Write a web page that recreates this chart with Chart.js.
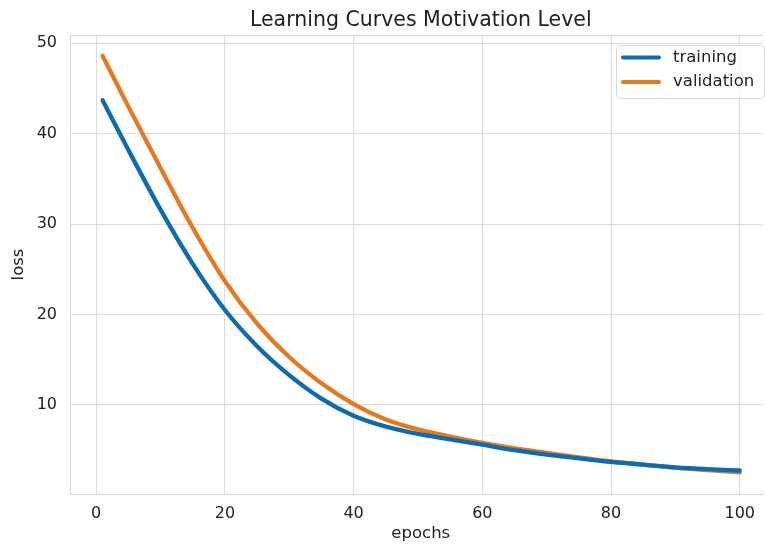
<!DOCTYPE html>
<html>
<head>
<meta charset="utf-8">
<title>Learning Curves Motivation Level</title>
<script src="https://cdn.jsdelivr.net/npm/chart.js@4/dist/chart.umd.min.js"></script>
<style>
    html, body { margin: 0; padding: 0; background: #ffffff; overflow: hidden; }
    #wrap { width: 765px; height: 546px; }
</style>
</head>
<body>
<div id="wrap"><canvas id="lossChart" width="765" height="546"></canvas></div>
<script>
// Values
const chartTitle = 'Learning Curves Motivation Level';
const xLabel = 'epochs';
const yLabel = 'loss';
const seriesNames = ['training', 'validation'];
const epochs = [1, 5, 10, 15, 20, 25, 30, 35, 40, 45, 50, 55, 60, 65, 70, 75, 80, 85, 90, 95, 100];
const trainingLoss = [43.7, 38.2, 31.6, 25.6, 20.5, 16.5, 13.3, 10.7, 8.8, 7.6, 6.8, 6.2, 5.6, 5.0, 4.5, 4.1, 3.7, 3.4, 3.1, 2.9, 2.75];
const validationLoss = [48.6, 43.0, 36.2, 29.6, 23.7, 19.0, 15.3, 12.4, 10.1, 8.4, 7.3, 6.5, 5.8, 5.2, 4.7, 4.2, 3.75, 3.4, 3.05, 2.8, 2.55];
const xTickStep = 20;
const yTickStep = 10;

const colors = {
    training: '#0b6cb3',
    validation: '#e6791d',
    grid: '#dcdcdc',
    spine: '#d4d4d4',
    text: '#222222'
};
const fontFamily = '"DejaVu Sans", sans-serif';

function toPoints(values) {
    return epochs.map((e, i) => ({ x: e, y: values[i] }));
}

// title, x label, top spine and the in-plot legend, drawn the matplotlib way
const decorPlugin = {
    id: 'decor',
    afterDraw(chart) {
        const ctx = chart.ctx;
        const area = chart.chartArea;
        const xScale = chart.scales.x;
        const plotCenter = xScale.getPixelForValue(50.44);

        ctx.save();
        // top spine
        ctx.strokeStyle = colors.spine;
        ctx.lineWidth = 1;
        ctx.beginPath();
        ctx.moveTo(area.left, area.top + 0.5);
        ctx.lineTo(area.right, area.top + 0.5);
        ctx.stroke();

        // title
        ctx.fillStyle = colors.text;
        ctx.font = '20.5px ' + fontFamily;
        ctx.textAlign = 'center';
        ctx.textBaseline = 'alphabetic';
        ctx.fillText(chartTitle, plotCenter, 26);

        // x axis label
        ctx.font = '16.5px ' + fontFamily;
        ctx.textBaseline = 'middle';
        ctx.fillText(xLabel, plotCenter, 534);

        // legend box
        const box = { x: 616, y: 45, w: 148, h: 53, r: 4 };
        ctx.beginPath();
        ctx.roundRect(box.x + 0.5, box.y + 0.5, box.w, box.h, box.r);
        ctx.fillStyle = 'rgba(255,255,255,0.85)';
        ctx.fill();
        ctx.strokeStyle = '#d9d9d9';
        ctx.stroke();

        const rows = [
            { name: seriesNames[0], color: colors.training, y: 57.5 },
            { name: seriesNames[1], color: colors.validation, y: 82 }
        ];
        ctx.textAlign = 'left';
        ctx.textBaseline = 'middle';
        ctx.font = '16.5px ' + fontFamily;
        rows.forEach(row => {
            ctx.strokeStyle = row.color;
            ctx.lineWidth = 4;
            ctx.lineCap = 'round';
            ctx.beginPath();
            ctx.moveTo(623, row.y);
            ctx.lineTo(659, row.y);
            ctx.stroke();
            ctx.fillStyle = colors.text;
            ctx.fillText(row.name, 673, row.y);
        });
        ctx.restore();
    }
};

const ctx = document.getElementById('lossChart').getContext('2d');
const lossChart = new Chart(ctx, {
    type: 'line',
    data: {
        datasets: [
            {
                label: seriesNames[0],
                data: toPoints(trainingLoss),
                borderColor: colors.training,
                borderWidth: 4.3,
                borderCapStyle: 'round',
                cubicInterpolationMode: 'monotone',
                pointRadius: 0,
                fill: false
            },
            {
                label: seriesNames[1],
                data: toPoints(validationLoss),
                borderColor: colors.validation,
                borderWidth: 4.3,
                borderCapStyle: 'round',
                cubicInterpolationMode: 'monotone',
                pointRadius: 0,
                fill: false
            }
        ]
    },
    options: {
        responsive: false,
        animation: false,
        devicePixelRatio: 1,
        layout: { padding: { top: 35, left: 0, right: 0, bottom: 0 } },
        plugins: {
            legend: { display: false },
            title: { display: false },
            tooltip: { enabled: false }
        },
        scales: {
            x: {
                type: 'linear',
                min: -4.07,
                max: 103.6,
                afterFit: scale => { scale.height = 52; },
                grid: { color: colors.grid, lineWidth: 1, drawTicks: false },
                border: { color: colors.spine, width: 1 },
                ticks: {
                    stepSize: xTickStep,
                    includeBounds: false,
                    padding: 10,
                    color: colors.text,
                    font: { family: fontFamily, size: 16 }
                }
            },
            y: {
                min: 0.15,
                max: 50.92,
                afterFit: scale => { scale.width = 70; },
                grid: { color: colors.grid, lineWidth: 1, drawTicks: false },
                border: { color: colors.spine, width: 1 },
                ticks: {
                    stepSize: yTickStep,
                    includeBounds: false,
                    padding: 13,
                    color: colors.text,
                    font: { family: fontFamily, size: 16 }
                },
                title: {
                    display: true,
                    text: yLabel,
                    color: colors.text,
                    padding: { top: 9, bottom: 0 },
                    font: { family: fontFamily, size: 16.5 }
                }
            }
        }
    },
    plugins: [decorPlugin]
});
</script>
</body>
</html>
